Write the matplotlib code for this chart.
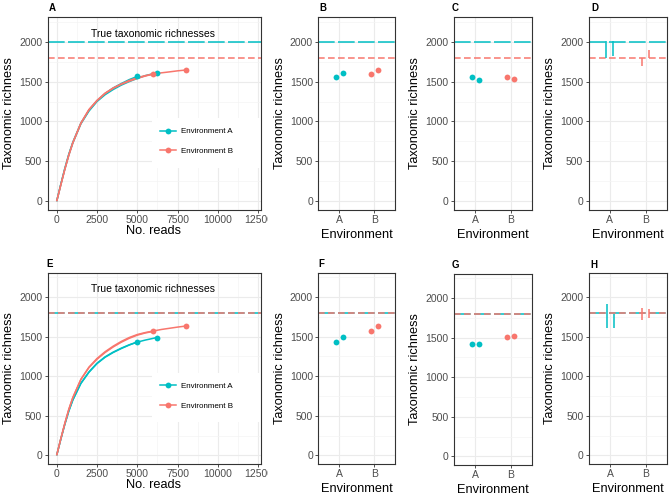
import matplotlib
matplotlib.use('Agg')
import matplotlib.pyplot as plt
from matplotlib.lines import Line2D
from matplotlib.patches import Rectangle
from matplotlib.transforms import Bbox, TransformedBbox

plt.rcParams['font.family'] = ['Liberation Sans', 'DejaVu Sans']
plt.rcParams['lines.scale_dashes'] = False

TEAL = '#00BFC4'
SALMON = '#F8766D'

# ---------------- data ----------------
environments = ['A', 'B']
legend_labels = ['Environment A', 'Environment B']
true_rich_top = [2000, 1800]      # A, B
true_rich_bottom = [1800, 1800]
reads_ticks = [0, 2500, 5000, 7500, 10000, 12500]
rich_ticks = [0, 500, 1000, 1500, 2000]

# rarefaction curves (top row)
top_A1_reads = [0, 250, 500, 750, 1000, 1500, 2000, 2500, 3000, 3500, 4000, 4500, 5000]
top_A1_rich = [0, 210, 410, 590, 740, 980, 1140, 1260, 1350, 1420, 1475, 1525, 1565]
top_A2_reads = [0, 250, 500, 750, 1000, 1500, 2000, 2500, 3000, 3500, 4000, 4500, 5000, 5500, 6000, 6200]
top_A2_rich = [0, 205, 400, 580, 730, 970, 1130, 1250, 1335, 1400, 1455, 1500, 1540, 1575, 1600, 1612]
top_B1_reads = [0, 250, 500, 750, 1000, 1500, 2000, 2500, 3000, 3500, 4000, 4500, 5000, 5500, 6000]
top_B1_rich = [0, 200, 400, 580, 735, 980, 1150, 1265, 1355, 1420, 1470, 1515, 1550, 1575, 1595]
top_B2_reads = [0, 250, 500, 750, 1000, 1500, 2000, 2500, 3000, 3500, 4000, 4500, 5000, 5500, 6000, 6500, 7000, 7500, 8000]
top_B2_rich = [0, 200, 395, 575, 730, 975, 1145, 1260, 1350, 1415, 1465, 1505, 1540, 1570, 1595, 1610, 1622, 1635, 1645]

# rarefaction curves (bottom row)
bot_A1_reads = [0, 250, 500, 750, 1000, 1500, 2000, 2500, 3000, 3500, 4000, 4500, 5000]
bot_A1_rich = [0, 200, 390, 560, 700, 910, 1050, 1160, 1240, 1300, 1350, 1395, 1435]
bot_A2_reads = [0, 250, 500, 750, 1000, 1500, 2000, 2500, 3000, 3500, 4000, 4500, 5000, 5500, 6000, 6200]
bot_A2_rich = [0, 200, 390, 560, 700, 910, 1055, 1165, 1245, 1305, 1355, 1398, 1432, 1458, 1480, 1490]
bot_B1_reads = [0, 250, 500, 750, 1000, 1500, 2000, 2500, 3000, 3500, 4000, 4500, 5000, 5500, 6000]
bot_B1_rich = [0, 205, 400, 580, 730, 960, 1110, 1215, 1300, 1370, 1430, 1480, 1520, 1548, 1568]
bot_B2_reads = [0, 250, 500, 750, 1000, 1500, 2000, 2500, 3000, 3500, 4000, 4500, 5000, 5500, 6000, 6500, 7000, 7500, 8000]
bot_B2_rich = [0, 205, 400, 580, 730, 960, 1115, 1225, 1310, 1380, 1440, 1490, 1528, 1553, 1573, 1592, 1607, 1622, 1635]

# point estimates (two samples per environment)
B_top_A = [1562, 1612]
B_top_B = [1595, 1645]
C_top_A = [1562, 1520]
C_top_B = [1553, 1528]
F_bot_A = [1436, 1491]
F_bot_B = [1570, 1633]
G_bot_A = [1427, 1423]
G_bot_B = [1507, 1516]

# interval panels (low, high)
D_top_A_low = [1800, 1825]
D_top_A_high = [2005, 2015]
D_top_B_low = [1700, 1800]
D_top_B_high = [1800, 1890]
H_bot_A_low = [1616, 1616]
H_bot_A_high = [1908, 1783]
H_bot_B_low = [1707, 1736]
H_bot_B_high = [1867, 1846]

# ---------------- figure ----------------
W, H = 669, 496
fig = plt.figure(figsize=(W / 100, H / 100), dpi=100)


def add_ax(l, t, r, b):
    return fig.add_axes([l / W, 1 - b / H, (r - l) / W, (b - t) / H])


BORDER = '#333333'
TICKLAB = '#4D4D4D'
LW = 1.1
DODGE = [-0.1, 0.1]


def style(ax, discrete, xlabel, xlabelpad):
    ax.set_facecolor('white')
    ax.set_axisbelow(True)
    for s in ax.spines.values():
        s.set_color(BORDER)
        s.set_linewidth(0.8)
    ax.set_ylim(-110, 2310)
    ax.set_yticks(rich_ticks)
    ax.set_yticks([250, 750, 1250, 1750, 2250], minor=True)
    if discrete:
        ax.set_xlim(0.4, 2.6)
        ax.set_xticks([1, 2])
        ax.set_xticklabels(environments)
    else:
        ax.set_xlim(-570, 12640)
        ax.set_xticks(reads_ticks)
        ax.set_xticks([1250, 3750, 6250, 8750, 11250], minor=True)
    ax.grid(which='major', color='#EBEBEB', lw=0.8)
    ax.grid(which='minor', color='#F4F4F4', lw=0.5)
    ax.tick_params(which='major', length=2.3, width=0.6, color=BORDER,
                   labelcolor=TICKLAB, labelsize=7.5, pad=1.5)
    ax.tick_params(which='minor', length=0)
    ax.set_ylabel('Taxonomic richness', fontsize=9.2, labelpad=3)
    ax.set_xlabel(xlabel, fontsize=9.2, labelpad=xlabelpad)


def hline_true(ax, vals):
    ax.axhline(vals[0], color=TEAL, lw=LW, dashes=(12, 2.4), zorder=2)
    ax.axhline(vals[1], color=SALMON, lw=LW, dashes=(4.8, 2.4), zorder=2.1)


def rare_panel(ax, curves, true_vals):
    style(ax, False, 'No. reads', 0)
    ax.add_patch(Rectangle((0.49, 0.218), 0.51, 0.26, transform=ax.transAxes,
                           facecolor='white', edgecolor='none', zorder=1))
    hline_true(ax, true_vals)
    for reads, rich, col in curves:
        ax.plot(reads, rich, color=col, lw=LW, zorder=3, solid_capstyle='butt')
        ax.plot(reads[-1], rich[-1], 'o', color=col, ms=4.2, mec='none', zorder=4)
    ax.text(6000, 2100, 'True taxonomic richnesses', ha='center', va='center', fontsize=7.5)
    handles = [Line2D([], [], color=TEAL, lw=LW, marker='o', ms=4.2, mec='none'),
               Line2D([], [], color=SALMON, lw=LW, marker='o', ms=4.2, mec='none')]
    leg = ax.legend(handles, legend_labels, loc='center left', bbox_to_anchor=(0.5, 0.355),
                    frameon=False, fontsize=5.8, handlelength=2.0, labelspacing=1.5,
                    handletextpad=0.6, borderpad=0.2)
    leg.set_zorder(5)
    # hide the last tick label's tail as in the reference
    clip = TransformedBbox(Bbox([[0, 0], [267.5 / W, 1]]), fig.transFigure)
    for lab in ax.get_xticklabels():
        lab.set_clip_box(clip)
        lab.set_clip_on(True)


def point_panel(ax, valsA, valsB, true_vals):
    style(ax, True, 'Environment', 2.5)
    hline_true(ax, true_vals)
    ax.plot([1 + d for d in DODGE], valsA, 'o', color=TEAL, ms=4.2, mec='none', zorder=4)
    ax.plot([2 + d for d in DODGE], valsB, 'o', color=SALMON, ms=4.2, mec='none', zorder=4)


def interval_panel(ax, lowA, highA, lowB, highB, true_vals):
    style(ax, True, 'Environment', 2.5)
    hline_true(ax, true_vals)
    ax.vlines([1 + d for d in DODGE], lowA, highA, color=TEAL, lw=LW, zorder=4)
    ax.vlines([2 + d for d in DODGE], lowB, highB, color=SALMON, lw=LW, zorder=4)


# top row
axA = add_ax(47.5, 17, 260.5, 210)
axB = add_ax(318.3, 17, 395, 210)
axC = add_ax(454, 17, 531.7, 210)
axD = add_ax(588.5, 17, 667, 210)
# bottom row
axE = add_ax(47.5, 272.7, 260.5, 464)
axF = add_ax(318.3, 272.7, 395, 464)
axG = add_ax(454, 273.7, 531.7, 465)
axH = add_ax(589, 272.7, 667, 464)

rare_panel(axA, [(top_A1_reads, top_A1_rich, TEAL), (top_A2_reads, top_A2_rich, TEAL),
                 (top_B1_reads, top_B1_rich, SALMON), (top_B2_reads, top_B2_rich, SALMON)],
           true_rich_top)
point_panel(axB, B_top_A, B_top_B, true_rich_top)
point_panel(axC, C_top_A, C_top_B, true_rich_top)
interval_panel(axD, D_top_A_low, D_top_A_high, D_top_B_low, D_top_B_high, true_rich_top)

rare_panel(axE, [(bot_A1_reads, bot_A1_rich, TEAL), (bot_A2_reads, bot_A2_rich, TEAL),
                 (bot_B1_reads, bot_B1_rich, SALMON), (bot_B2_reads, bot_B2_rich, SALMON)],
           true_rich_bottom)
point_panel(axF, F_bot_A, F_bot_B, true_rich_bottom)
point_panel(axG, G_bot_A, G_bot_B, true_rich_bottom)
interval_panel(axH, H_bot_A_low, H_bot_A_high, H_bot_B_low, H_bot_B_high, true_rich_bottom)

# panel tags
tags = [('A', 48.5, 8), ('B', 319, 8), ('C', 452, 8), ('D', 591, 8),
        ('E', 46, 264), ('F', 318, 264), ('G', 452, 265), ('H', 590, 265)]
for t, x, y in tags:
    fig.text(x / W, 1 - y / H, t, fontsize=7, fontweight='bold', ha='left', va='center')

fig.savefig('out.png', dpi=100, facecolor='white')
